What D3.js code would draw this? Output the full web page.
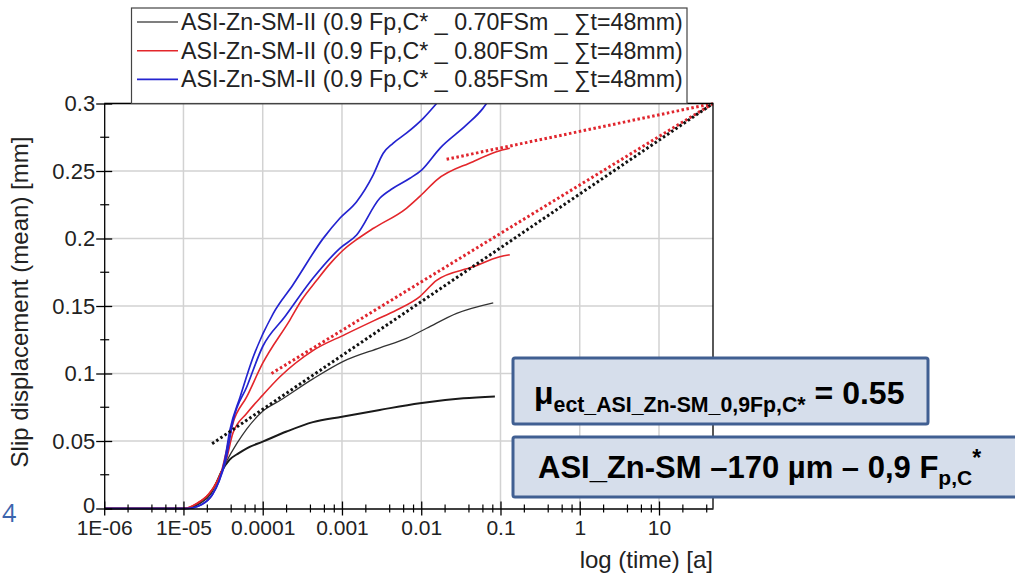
<!DOCTYPE html>
<html>
<head>
<meta charset="utf-8">
<script src="https://cdn.jsdelivr.net/npm/d3@7"></script>
<style>
  body { margin: 0; background: #fff; }
  svg { display: block; font-family: "Liberation Sans", Arial, sans-serif; }
</style>
</head>
<body>
<div class="chart"></div>
<script>
// tick values + labels
const timeTicks = [1e-6, 1e-5, 1e-4, 1e-3, 1e-2, 0.1, 1, 10];
const timeLabels = ["1E-06", "1E-05", "0.0001", "0.001", "0.01", "0.1", "1", "10"];
const slipTicks = [0, 0.05, 0.1, 0.15, 0.2, 0.25, 0.3];
const slipLabels = ["0", "0.05", "0.1", "0.15", "0.2", "0.25", "0.3"];

const legendLabels = [
  "ASI-Zn-SM-II (0.9 Fp,C* _ 0.70FSm _ \u2211t=48mm)",
  "ASI-Zn-SM-II (0.9 Fp,C* _ 0.80FSm _ \u2211t=48mm)",
  "ASI-Zn-SM-II (0.9 Fp,C* _ 0.85FSm _ \u2211t=48mm)"
];

// [time (a), slip (mm)]
const black1 = [[1e-6,0],[1.05e-5,0],[1.6e-5,0.004],[2.2e-5,0.011],[2.6e-5,0.019],[3.0e-5,0.027],[3.8e-5,0.036],[5e-5,0.041],[6.3e-5,0.0446],[1e-4,0.0495],[2e-4,0.057],[4.3e-4,0.064],[1e-3,0.068],[3e-3,0.073],[9.6e-3,0.078],[0.034,0.0816],[0.085,0.083]];
const black2 = [[1e-6,0],[1.05e-5,0],[1.6e-5,0.004],[2.2e-5,0.011],[2.6e-5,0.019],[3.0e-5,0.027],[3.5e-5,0.035],[4.7e-5,0.048],[6.3e-5,0.059],[1e-4,0.072],[1.65e-4,0.080],[4.3e-4,0.096],[1.04e-3,0.109],[3e-3,0.119],[6.5e-3,0.126],[0.0117,0.1335],[0.028,0.1446],[0.081,0.1524]];
const red1 = [[1e-6,0],[1e-5,0],[1.5e-5,0.004],[2.1e-5,0.011],[2.6e-5,0.019],[3e-5,0.027],[3.5e-5,0.037],[4.2e-5,0.0557],[6.3e-5,0.0705],[1e-4,0.084],[1.65e-4,0.0976],[4.3e-4,0.117],[1.1e-3,0.129],[2.5e-3,0.139],[4.9e-3,0.147],[9.6e-3,0.157],[0.0156,0.169],[0.045,0.179],[0.098,0.1865],[0.131,0.188]];
const red2 = [[1e-6,0],[1e-5,0],[1.5e-5,0.004],[2.1e-5,0.011],[2.6e-5,0.019],[3e-5,0.027],[3.4e-5,0.04],[4.2e-5,0.063],[6.3e-5,0.0828],[1e-4,0.1076],[2.2e-4,0.1396],[3.1e-4,0.1544],[4.8e-4,0.169],[7e-4,0.181],[1.04e-3,0.1915],[1.6e-3,0.2],[2.5e-3,0.2076],[6.5e-3,0.2224],[1e-2,0.2322],[0.0156,0.2433],[0.045,0.2569],[0.089,0.2643],[0.131,0.2668]];
const blue1 = [[1e-6,0],[1.1e-5,0],[1.7e-5,0.003],[2.3e-5,0.01],[2.8e-5,0.02],[3.3e-5,0.035],[3.85e-5,0.058],[5.2e-5,0.0828],[7.6e-5,0.1124],[1.36e-4,0.1446],[2.4e-4,0.1656],[5.8e-4,0.2001],[9.4e-4,0.215],[1.53e-3,0.2273],[2.47e-3,0.247],[3.3e-3,0.263],[4.4e-3,0.2705],[6.5e-3,0.278],[0.0106,0.289],[0.0156,0.3]];
const blue2 = [[1e-6,0],[1.1e-5,0],[1.7e-5,0.003],[2.3e-5,0.01],[2.8e-5,0.02],[3.4e-5,0.035],[4.25e-5,0.0656],[6.3e-5,0.0902],[1e-4,0.12],[1.9e-4,0.142],[4.3e-4,0.1705],[9.4e-4,0.1927],[1.53e-3,0.2026],[3e-3,0.2298],[4.4e-3,0.2372],[7.2e-3,0.2446],[0.0101,0.2507],[0.0172,0.2668],[0.0372,0.2841],[0.06,0.2964],[0.0665,0.3]];

// dotted fit lines
const fitBlack = [[2.3e-5,0.048],[48,0.3]];
const fitRedLow = [[1.29e-4,0.1],[48,0.3]];
const fitRedHigh = [[0.0209,0.2587],[48,0.3]];

const w = 1015, h = 574;
const padLeft = 104.2, padRight = 713, padTop = 103.5, padBottom = 508.5;

const svg = d3.select('div.chart').append('svg')
  .attr('width', w).attr('height', h);

const xScale = d3.scaleLog().domain([1e-6, 48]).range([padLeft, padRight]);
const yScale = d3.scaleLinear().domain([0, 0.3]).range([padBottom, padTop]);

// grid
svg.append('g').selectAll('line')
  .data(timeTicks.slice(1)).enter().append('line')
  .attr('x1', d => xScale(d)).attr('x2', d => xScale(d))
  .attr('y1', padTop).attr('y2', padBottom)
  .attr('stroke', '#d2d2d2').attr('stroke-width', 1.5);
svg.append('g').selectAll('line')
  .data(slipTicks.slice(1)).enter().append('line')
  .attr('x1', padLeft).attr('x2', padRight)
  .attr('y1', d => yScale(d)).attr('y2', d => yScale(d))
  .attr('stroke', '#d2d2d2').attr('stroke-width', 1.5);

svg.append('clipPath').attr('id', 'plot')
  .append('rect').attr('x', padLeft).attr('y', padTop - 1)
  .attr('width', padRight - padLeft).attr('height', padBottom - padTop + 2);

const line = d3.line()
  .x(d => xScale(d[0]))
  .y(d => yScale(d[1]))
  .curve(d3.curveMonotoneX);

const plot = svg.append('g').attr('clip-path', 'url(#plot)');

const curves = [
  {d: black1, c: '#1a1a1a', sw: 2},
  {d: black2, c: '#333', sw: 1.3},
  {d: red1, c: '#e3262b', sw: 1.6},
  {d: red2, c: '#e3262b', sw: 1.6},
  {d: blue1, c: '#2424d0', sw: 1.7},
  {d: blue2, c: '#2424d0', sw: 1.7}
];
curves.forEach(s => {
  plot.append('path').attr('d', line(s.d))
    .attr('fill', 'none').attr('stroke', s.c).attr('stroke-width', s.sw);
});

const fitLine = d3.line().x(d => xScale(d[0])).y(d => yScale(d[1]));
[[fitRedLow, '#e0262e'], [fitRedHigh, '#e0262e'], [fitBlack, '#111']].forEach(f => {
  plot.append('path').attr('d', fitLine(f[0]))
    .attr('fill', 'none').attr('stroke', f[1])
    .attr('stroke-width', 3).attr('stroke-dasharray', '2.5,2.5');
});

// frame
svg.append('path')
  .attr('d', `M${padLeft},${padTop}H${padRight}V${padBottom}`)
  .attr('fill', 'none').attr('stroke', '#000').attr('stroke-width', 1.3);

// minor ticks
const minorX = [];
for (let k = -6; k <= 1; k++) [2, 4, 6, 8].forEach(m => { const v = m * Math.pow(10, k); if (v <= 48) minorX.push(v); });
const minorY = [0.025, 0.075, 0.125, 0.175, 0.225, 0.275];

const xAxis = d3.axisBottom(xScale)
  .tickValues(timeTicks)
  .tickFormat((d, i) => timeLabels[i])
  .tickSizeInner(7).tickSizeOuter(0).tickPadding(5);
const gx = svg.append('g')
  .attr('transform', `translate(0,${padBottom})`)
  .call(xAxis);
gx.selectAll('.tick line').attr('y1', -7).attr('stroke-width', 1.3);
gx.select('.domain').attr('stroke-width', 1.3);
gx.selectAll('text').attr('font-size', 21).attr('fill', '#222')
  .attr('font-family', '"Liberation Sans", Arial, sans-serif');
gx.selectAll('line.mx').data(minorX).enter().append('line')
  .attr('class', 'mx')
  .attr('x1', d => xScale(d)).attr('x2', d => xScale(d))
  .attr('y1', -4).attr('y2', 4).attr('stroke', '#000').attr('stroke-width', 1.2);

const yAxis = d3.axisLeft(yScale)
  .tickValues(slipTicks)
  .tickFormat((d, i) => slipLabels[i])
  .tickSizeInner(8).tickSizeOuter(0).tickPadding(1);
const gy = svg.append('g')
  .attr('transform', `translate(${padLeft},0)`)
  .call(yAxis);
gy.selectAll('.tick line').attr('x1', 8).attr('stroke-width', 1.3);
gy.select('.domain').attr('stroke-width', 1.3);
gy.selectAll('text').attr('font-size', 22).attr('fill', '#222')
  .attr('font-family', '"Liberation Sans", Arial, sans-serif');
gy.selectAll('.tick text').filter(d => d === 0).attr('dy', '0.2em');
gy.selectAll('line.my').data(minorY).enter().append('line')
  .attr('class', 'my')
  .attr('x1', -4).attr('x2', 5)
  .attr('y1', d => yScale(d)).attr('y2', d => yScale(d))
  .attr('stroke', '#000').attr('stroke-width', 1.2);

// axis titles
svg.append('text')
  .attr('transform', `translate(28,${(padTop + padBottom) / 2 - 4}) rotate(-90)`)
  .attr('text-anchor', 'middle').attr('font-size', 24).attr('fill', '#222')
  .text('Slip displacement (mean) [mm]');
svg.append('text')
  .attr('x', padRight).attr('y', 568)
  .attr('text-anchor', 'end').attr('font-size', 24).attr('fill', '#222')
  .text('log (time) [a]');

// legend
const lg = svg.append('g');
lg.append('rect').attr('x', 131.5).attr('y', 8).attr('width', 687 - 131.5).attr('height', padTop - 8)
  .attr('fill', '#fff').attr('stroke', '#444').attr('stroke-width', 1.2);
const legendColors = ['#555', '#e3262b', '#2424d0'];
legendLabels.forEach((t, i) => {
  const yy = 22 + i * 28.7;
  lg.append('line').attr('x1', 137).attr('x2', 178).attr('y1', yy).attr('y2', yy)
    .attr('stroke', legendColors[i]).attr('stroke-width', 1.6);
  lg.append('text').attr('x', 181).attr('y', yy + 8)
    .attr('font-size', 23.2).attr('fill', '#222').text(t);
});

// annotation boxes
svg.append('rect').attr('x', 513).attr('y', 358).attr('width', 415).attr('height', 66)
  .attr('fill', '#d6deeb').attr('stroke', '#405f92').attr('stroke-width', 3).attr('rx', 2);
svg.append('rect').attr('x', 513).attr('y', 437).attr('width', 520).attr('height', 60)
  .attr('fill', '#d6deeb').attr('stroke', '#405f92').attr('stroke-width', 3).attr('rx', 2);

const t1 = svg.append('text').attr('x', 534).attr('y', 404)
  .attr('font-weight', 'bold').attr('fill', '#000').attr('font-size', 32);
t1.append('tspan').text('\u03bc');
t1.append('tspan').attr('font-size', 21.3).attr('dy', 8).text('ect_ASI_Zn-SM_0,9Fp,C*');
t1.append('tspan').attr('dy', -8).text(' = 0.55');

const t2 = svg.append('text').attr('x', 538).attr('y', 478)
  .attr('font-weight', 'bold').attr('fill', '#000').attr('font-size', 31);
t2.append('tspan').text('ASI_Zn-SM \u2013170 \u00b5m \u2013 0,9 F');
t2.append('tspan').attr('font-size', 21).attr('dy', 7).text('p,C');
t2.append('tspan').attr('font-size', 23).attr('dy', -19).text('*');

// page number fragment
svg.append('text').attr('x', 2).attr('y', 522)
  .attr('font-size', 25).attr('fill', '#3b64ad')
  .attr('font-family', '"Open Sans", sans-serif').text('4');
</script>
</body>
</html>
